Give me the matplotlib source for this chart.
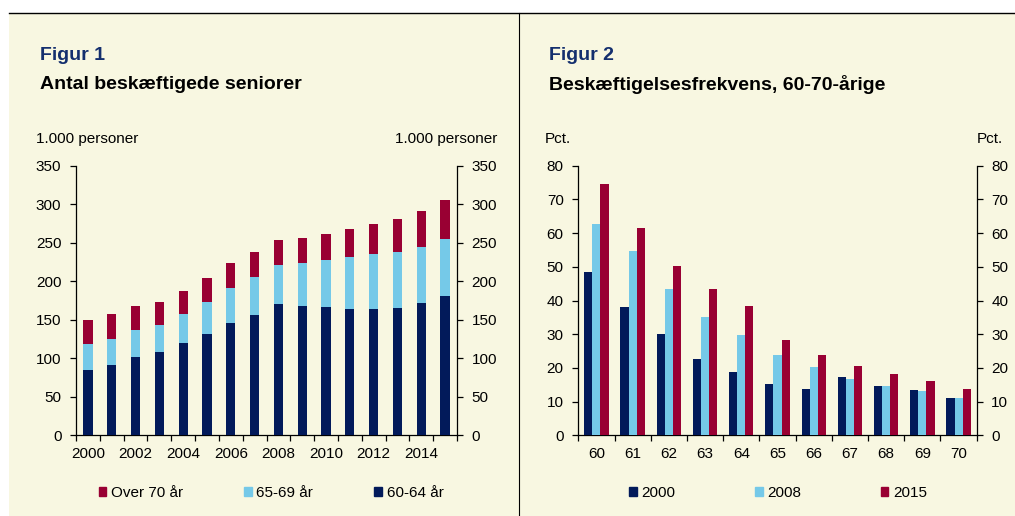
import matplotlib
matplotlib.use("Agg")
import matplotlib.pyplot as plt
from matplotlib.patches import Patch, Rectangle
from matplotlib.lines import Line2D
import numpy as np

plt.rcParams['font.family'] = ['Liberation Sans', 'DejaVu Sans']

# Figur 1: antal beskaeftigede seniorer (1.000 personer)
years = list(range(2000, 2016))
age_60_64 = [84.8, 91.7, 101.7, 108.2, 119.4, 131.1, 145.8, 156.2,
             170.4, 167.8, 167.0, 164.4, 164.0, 165.3, 171.7, 180.8]
age_65_69 = [33.3, 33.8, 35.4, 35.0, 37.6, 41.9, 45.8, 49.3,
             51.1, 55.9, 61.0, 67.0, 70.9, 72.6, 73.2, 74.0]
over_70 = [31.1, 31.5, 31.2, 30.3, 30.7, 31.2, 31.6, 32.4,
           31.6, 32.0, 33.7, 35.9, 39.4, 42.4, 45.8, 50.6]

# Figur 2: beskaeftigelsesfrekvens (pct.)
ages = list(range(60, 71))
freq_2000 = [48.4, 38.0, 30.0, 22.6, 18.7, 15.1, 13.8, 17.4, 14.7, 13.3, 11.2]
freq_2008 = [62.7, 54.6, 43.3, 35.0, 29.8, 23.7, 20.2, 16.7, 14.7, 13.2, 11.1]
freq_2015 = [74.7, 61.4, 50.1, 43.5, 38.4, 28.3, 23.8, 20.7, 18.1, 16.2, 13.7]

NAVY = '#021a5a'
LIGHT = '#75c9e8'
RED = '#990033'
CREAM = '#f8f7e1'
TITLE_BLUE = '#142f6e'

W, H = 1015, 516
fig = plt.figure(figsize=(W / 100, H / 100), dpi=100, facecolor='white')

# background panel, top rule and divider
fig.patches.append(Rectangle((9 / W, 0), 1 - 9 / W, 1 - 13 / H, transform=fig.transFigure,
                             facecolor=CREAM, edgecolor='none', zorder=-10))
fig.add_artist(Line2D([9 / W, 1], [1 - 13 / H, 1 - 13 / H], transform=fig.transFigure,
                      color='black', lw=1.0))
fig.add_artist(Line2D([519 / W, 519 / W], [0, 1 - 13 / H], transform=fig.transFigure,
                      color='black', lw=0.8))

ax_bottom = 1 - 435.3 / H
ax_height = (435.3 - 165.7) / H
ax1 = fig.add_axes([76 / W, ax_bottom, (457 - 76) / W, ax_height])
ax2 = fig.add_axes([578.3 / W, ax_bottom, (976.7 - 578.3) / W, ax_height])


def style_axis(ax, ncat, ymax, ystep):
    ax.set_facecolor('none')
    ax.set_xlim(-0.5, ncat - 0.5)
    ax.set_ylim(0, ymax)
    ax.set_yticks(np.arange(0, ymax + 1, ystep))
    ax.spines['top'].set_visible(False)
    for s in ['left', 'right', 'bottom']:
        ax.spines[s].set_linewidth(0.9)
    ax.tick_params(axis='y', which='major', direction='out', length=4, width=0.9,
                   left=True, right=True, labelleft=True, labelright=True,
                   labelsize=11, pad=6.5, colors='black')
    ax.set_xticks(np.arange(-0.5, ncat, 1), minor=True)
    ax.tick_params(axis='x', which='minor', direction='out', length=4, width=0.9)
    ax.tick_params(axis='x', which='major', length=0, labelsize=11, pad=8.5)


# Figur 1
x1 = np.arange(len(years))
b1 = np.array(age_60_64)
b2 = b1 + np.array(age_65_69)
ax1.bar(x1, age_60_64, width=0.39, color=NAVY, zorder=3)
ax1.bar(x1, age_65_69, width=0.39, bottom=b1, color=LIGHT, zorder=3)
ax1.bar(x1, over_70, width=0.39, bottom=b2, color=RED, zorder=3)
style_axis(ax1, len(years), 350, 50)
ax1.set_xticks(x1[::2])
ax1.set_xticklabels([str(y) for y in years[::2]])

# Figur 2
x2 = np.arange(len(ages))
bw = 0.224
ax2.bar(x2 - bw, freq_2000, width=bw, color=NAVY, zorder=3)
ax2.bar(x2, freq_2008, width=bw, color=LIGHT, zorder=3)
ax2.bar(x2 + bw, freq_2015, width=bw, color=RED, zorder=3)
style_axis(ax2, len(ages), 80, 10)
ax2.set_xticks(x2)
ax2.set_xticklabels([str(a) for a in ages])

# titles and unit labels
fig.text(40 / W, 1 - 56 / H, 'Figur 1', fontsize=14, fontweight='bold', color=TITLE_BLUE, va='center')
fig.text(40 / W, 1 - 84 / H, 'Antal beskæftigede seniorer', fontsize=14, fontweight='bold', va='center')
fig.text(549 / W, 1 - 56 / H, 'Figur 2', fontsize=14, fontweight='bold', color=TITLE_BLUE, va='center')
fig.text(549 / W, 1 - 84 / H, 'Beskæftigelsesfrekvens, 60-70-årige', fontsize=14, fontweight='bold', va='center')

fig.text(36 / W, 1 - 139 / H, '1.000 personer', fontsize=11, va='center')
fig.text(497 / W, 1 - 139 / H, '1.000 personer', fontsize=11, va='center', ha='right')
fig.text(545 / W, 1 - 139 / H, 'Pct.', fontsize=11, va='center')
fig.text(1003 / W, 1 - 139 / H, 'Pct.', fontsize=11, va='center', ha='right')

# legends
leg_y = 1 - 493 / H
h1 = [Patch(color=RED), Patch(color=LIGHT), Patch(color=NAVY)]
ax1.legend(h1, ['Over 70 år', '65-69 år', '60-64 år'], loc='center', ncol=3,
           bbox_to_anchor=(271 / W, leg_y), bbox_transform=fig.transFigure,
           frameon=False, fontsize=11, handlelength=0.5, handleheight=0.5,
           handletextpad=0.3, columnspacing=4.0)
h2 = [Patch(color=NAVY), Patch(color=LIGHT), Patch(color=RED)]
ax2.legend(h2, ['2000', '2008', '2015'], loc='center', ncol=3,
           bbox_to_anchor=(778 / W, leg_y), bbox_transform=fig.transFigure,
           frameon=False, fontsize=11, handlelength=0.5, handleheight=0.5,
           handletextpad=0.3, columnspacing=5.2)

fig.savefig('out.png', dpi=100, facecolor='white')
